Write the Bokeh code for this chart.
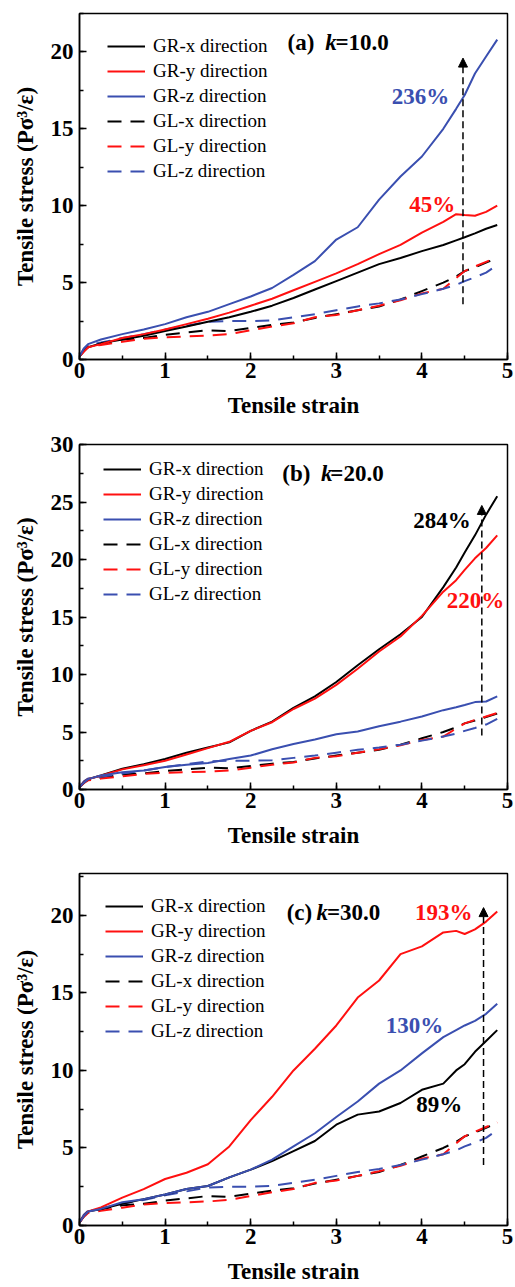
from bokeh.plotting import figure
from bokeh.layouts import column
from bokeh.models import (Legend, LegendItem, Label, Arrow, NormalHead, Range1d,
                          SingleIntervalTicker)
from bokeh.embed import file_html
from bokeh.resources import INLINE

# ---------------- data ----------------
strain = [0, 0.05, 0.1, 0.25, 0.5, 0.75, 1.0, 1.25, 1.5, 1.75, 2.0, 2.25, 2.5,
          2.75, 3.0, 3.25, 3.5, 3.75, 4.0, 4.25, 4.4, 4.5, 4.62, 4.75, 4.88]

# GL (reference) curves, identical in all three panels
gl_x = [0.2, 0.6, 0.85, 1.05, 1.3, 1.4, 1.6, 1.75, 1.9, 1.85, 2.05, 2.25, 2.4,
        2.7, 2.95, 3.2, 3.45, 3.9, 4.45, 5.0, 5.4, 5.75, 6.0, 6.3, 6.6]
gl_y = [0.2, 0.55, 0.8, 0.95, 1.15, 1.35, 1.45, 1.5, 1.55, 1.65, 1.9, 2.15, 2.35,
        2.75, 2.9, 3.2, 3.5, 3.85, 4.3, 4.6, 5.3, 5.75, 6.05, 6.35, 6.65]
gl_z = [0.2, 0.7, 0.95, 1.1, 1.4, 1.65, 1.95, 2.2, 2.45, 2.5, 2.5, 2.55, 2.75,
        2.95, 3.2, 3.45, 3.65, 3.9, 4.25, 4.6, 4.85, 5.1, 5.35, 5.65, 6.15]

# (a) k = 10.0
gr_x_a = [0.2, 0.55, 0.8, 1.05, 1.3, 1.55, 1.85, 2.15, 2.45, 2.75, 3.1, 3.5, 4.0,
          4.55, 5.1, 5.65, 6.2, 6.6, 7.05, 7.45, 7.75, 7.95, 8.2, 8.5, 8.75]
gr_y_a = [0.2, 0.5, 0.8, 1.0, 1.4, 1.65, 1.95, 2.3, 2.65, 3.05, 3.5, 3.95, 4.5,
          5.05, 5.6, 6.2, 6.85, 7.45, 8.25, 8.95, 9.45, 9.4, 9.35, 9.6, 10.0]
gr_z_a = [0.2, 0.7, 1.0, 1.3, 1.65, 1.95, 2.3, 2.75, 3.1, 3.6, 4.1, 4.65, 5.5,
          6.4, 7.8, 8.6, 10.4, 11.9, 13.2, 15.0, 16.3, 17.2, 18.6, 19.7, 20.8]

# (b) k = 20.0
gr_x_b = [0.2, 0.6, 0.9, 1.22, 1.8, 2.2, 2.65, 3.2, 3.65, 4.1, 5.1, 5.9, 7.1,
          8.1, 9.35, 10.8, 12.2, 13.5, 15.0, 17.6, 19.3, 20.6, 22.1, 23.9, 25.5]
gr_y_b = [0.2, 0.6, 0.9, 1.2, 1.75, 2.1, 2.5, 3.05, 3.6, 4.15, 5.1, 5.85, 7.0,
          7.9, 9.1, 10.5, 12.0, 13.3, 15.1, 17.2, 18.2, 19.1, 20.1, 21.0, 22.1]
gr_z_b = [0.2, 0.6, 0.9, 1.22, 1.5, 1.65, 1.95, 2.15, 2.3, 2.65, 2.95, 3.5, 3.95,
          4.35, 4.8, 5.05, 5.5, 5.9, 6.35, 6.9, 7.15, 7.35, 7.6, 7.65, 8.1]

# (c) k = 30.0
gr_x_c = [0.2, 0.6, 0.9, 1.07, 1.4, 1.7, 2.0, 2.35, 2.55, 3.1, 3.6, 4.15, 4.8,
          5.45, 6.5, 7.15, 7.35, 7.9, 8.75, 9.15, 10.0, 10.4, 11.2, 11.9, 12.6]
gr_y_c = [0.2, 0.6, 0.9, 1.17, 1.8, 2.35, 3.0, 3.4, 3.95, 5.1, 6.8, 8.3, 10.0,
          11.4, 12.9, 14.7, 15.8, 17.5, 18.0, 18.9, 19.0, 18.8, 19.1, 19.6, 20.25]
gr_z_c = [0.2, 0.6, 0.9, 1.07, 1.5, 1.7, 2.0, 2.35, 2.55, 3.1, 3.6, 4.25, 5.1,
          5.95, 7.0, 8.0, 9.15, 10.0, 11.1, 12.15, 12.6, 12.9, 13.2, 13.65, 14.3]

series_labels = ["GR-x direction", "GR-y direction", "GR-z direction",
                 "GL-x direction", "GL-y direction", "GL-z direction"]

BLACK = "#000000"
RED = "#ff1010"
BLUE = "#3a4fb0"
FONT = "Liberation Serif"
W = 515


def make_panel(height, top, frame_h, left, right, ymax, gr, title, kval,
               title_pos, annotations, arrow, legend_offset):
    p = figure(width=W, height=height, x_range=Range1d(0, 5),
               y_range=Range1d(0, ymax), output_backend="svg",
               toolbar_location=None,
               min_border_left=left, min_border_right=right,
               min_border_top=top, min_border_bottom=height - top - frame_h)
    p.xgrid.visible = False
    p.ygrid.visible = False
    p.outline_line_color = "black"
    p.outline_line_width = 1.5
    p.outline_line_alpha = 1.0
    p.background_fill_color = "white"
    p.border_fill_color = "white"

    p.xaxis.ticker = SingleIntervalTicker(interval=1, num_minor_ticks=2)
    p.yaxis.ticker = SingleIntervalTicker(interval=5, num_minor_ticks=2)
    p.xaxis.axis_label = "Tensile strain"
    p.yaxis.axis_label = "Tensile stress (Pσ³/ε)"
    for ax in (p.xaxis[0], p.yaxis[0]):
        ax.major_label_text_font = FONT
        ax.major_label_text_font_style = "bold"
        ax.major_label_text_font_size = "23px"
        ax.major_label_text_color = "black"
        ax.axis_label_text_font = FONT
        ax.axis_label_text_font_style = "bold"
        ax.axis_label_text_font_size = "23px"
        ax.axis_label_text_color = "black"
        ax.major_tick_in = 7
        ax.major_tick_out = 0
        ax.minor_tick_in = 4
        ax.minor_tick_out = 0
        ax.axis_line_width = 1.5
        ax.major_tick_line_width = 1.5
        ax.minor_tick_line_width = 1.5
        ax.axis_line_color = "black"
        ax.major_tick_line_color = "black"
        ax.minor_tick_line_color = "black"
    p.xaxis.major_label_standoff = 3
    p.xaxis.axis_label_standoff = 12
    p.yaxis.major_label_standoff = 6
    p.yaxis.axis_label_standoff = 10

    curves = [(gr[0], BLACK, "solid"), (gr[1], RED, "solid"), (gr[2], BLUE, "solid"),
              (gl_x, BLACK, "14 9"), (gl_y, RED, "14 9"), (gl_z, BLUE, "14 9")]
    rmap = {}
    for i in [3, 4, 5, 0, 1, 2]:
        ys, col, dash = curves[i]
        rmap[i] = p.line(strain, ys, line_color=col, line_width=2, line_dash=dash)
    renderers = [rmap[i] for i in range(6)]

    legend = Legend(items=[LegendItem(label=lab, renderers=[r])
                           for lab, r in zip(series_labels, renderers)],
                    location=legend_offset,
                    label_text_font=FONT, label_text_font_size="19px",
                    label_text_color="black",
                    glyph_width=38, glyph_height=22, label_height=22,
                    label_standoff=8, spacing=3, padding=0, margin=0,
                    background_fill_alpha=0, border_line_alpha=0)
    p.add_layout(legend)

    tx, kx, ex, ty = title_pos
    p.add_layout(Label(x=tx, y=ty, text=title, text_font=FONT,
                       text_font_style="bold", text_font_size="23px",
                       text_baseline="middle", text_color="black"))
    p.add_layout(Label(x=kx, y=ty, text="k", text_font=FONT,
                       text_font_style="bold italic", text_font_size="23px",
                       text_baseline="middle", text_color="black"))
    p.add_layout(Label(x=ex, y=ty, text="=" + kval, text_font=FONT,
                       text_font_style="bold", text_font_size="23px",
                       text_baseline="middle", text_color="black"))

    for (ax_, ay_, txt, col, align) in annotations:
        p.add_layout(Label(x=ax_, y=ay_, text=txt, text_font=FONT,
                           text_font_style="bold", text_font_size="23px",
                           text_baseline="middle", text_align=align,
                           text_color=col))

    axx, ay0, ay1 = arrow
    p.add_layout(Arrow(x_start=axx, y_start=ay0, x_end=axx, y_end=ay1,
                       end=NormalHead(size=9, fill_color="black",
                                      line_color="black", line_width=1),
                       line_color="black", line_width=1.5, line_dash="7 4"))
    return p


pa = make_panel(420, 13, 348, 79, 8, 22.5, (gr_x_a, gr_y_a, gr_z_a),
                "(a)", "10.0", (2.43, 2.87, 2.99, 20.6),
                [(4.32, 17.1, "236%", BLUE, "right"),
                 (4.39, 10.1, "45%", RED, "right")],
                (4.48, 3.6, 19.6), (28, 177))
pb = make_panel(430, 24, 353, 76, 5, 30, (gr_x_b, gr_y_b, gr_z_b),
                "(b)", "20.0", (2.37, 2.82, 2.93, 27.5),
                [(4.57, 23.4, "284%", BLACK, "right"),
                 (4.29, 16.45, "220%", RED, "left")],
                (4.70, 4.7, 24.7), (24, 184))
pc = make_panel(436, 23, 354, 76, 3, 22.7, (gr_x_c, gr_y_c, gr_z_c),
                "(c)", "30.0", (2.42, 2.77, 2.89, 20.2),
                [(4.59, 20.2, "193%", RED, "right"),
                 (4.25, 12.9, "130%", BLUE, "right"),
                 (4.47, 7.8, "89%", BLACK, "right")],
                (4.72, 3.9, 20.5), (26, 183))

layout = column(pa, pb, pc, spacing=0)
open("out.html", "w").write(file_html(layout, INLINE))
